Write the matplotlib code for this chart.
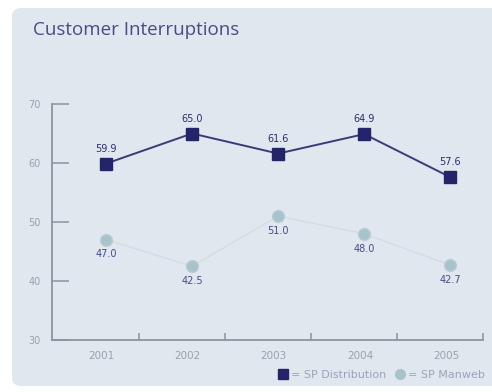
import matplotlib
matplotlib.use("Agg")
import matplotlib.pyplot as plt
from matplotlib.patches import FancyBboxPatch
from matplotlib.lines import Line2D

years = ["2001", "2002", "2003", "2004", "2005"]
sp_distribution = [59.9, 65.0, 61.6, 64.9, 57.6]
sp_manweb = [47.0, 42.5, 51.0, 48.0, 42.7]
y_ticks = [30, 40, 50, 60, 70]

W, H = 492, 392
fig = plt.figure(figsize=(W / 100, H / 100), dpi=100)
fig.patch.set_facecolor("white")

panel = FancyBboxPatch((12 / W, 6 / H), (W + 20 - 12) / W, (384 - 6) / H,
                       boxstyle="round,pad=0,rounding_size=0.02",
                       transform=fig.transFigure, facecolor="#e1e7ee",
                       edgecolor="none", zorder=-10)
fig.add_artist(panel)

fig.text(33 / W, 1 - 30 / H, "Customer Interruptions", fontsize=13.5,
         color="#4b4a84", va="center", ha="left", family="Open Sans")

ax = fig.add_axes([52 / W, 1 - 340 / H, (483 - 52) / W, (340 - 104) / H])
ax.set_facecolor("none")
ax.set_zorder(2)

x = list(range(len(years)))
navy = "#24246a"
light = "#a9c3cd"

ax.plot(x, sp_manweb, color="#d3dce5", lw=1.0, zorder=2)
ax.plot(x, sp_manweb, ls="none", marker="o", ms=8.5, color=light,
        markeredgecolor="#b7ccd4", zorder=3)
ax.plot(x, sp_distribution, color="#3a3a78", lw=1.4, zorder=4,
        marker="s", ms=8, markerfacecolor=navy, markeredgecolor=navy)

for xi, v in zip(x, sp_distribution):
    ax.annotate(f"{v:.1f}", (xi, v), xytext=(0, 7), textcoords="offset points",
                ha="center", va="bottom", fontsize=7, color="#2e2e70",
                annotation_clip=False)
for xi, v in zip(x, sp_manweb):
    ax.annotate(f"{v:.1f}", (xi, v), xytext=(0, -7), textcoords="offset points",
                ha="center", va="top", fontsize=7, color="#4a4a8a",
                annotation_clip=False)

ax.set_xlim(-0.628, 4.38)
ax.set_ylim(30, 70)
ax.set_yticks(y_ticks)
ax.set_yticklabels([str(t) for t in y_ticks])
ax.set_xticks([xi - 0.05 for xi in x])
ax.set_xticklabels(years)
ax.set_xticks([xi + 0.378 for xi in x], minor=True)

for s in ["top", "right"]:
    ax.spines[s].set_visible(False)
for s in ["left", "bottom"]:
    ax.spines[s].set_color("#8c939c")
    ax.spines[s].set_linewidth(1.3)

ax.tick_params(axis="y", direction="in", length=12, width=1.1, color="#8c939c",
               labelsize=7, labelcolor="#9aa1ab", pad=8)
ax.tick_params(axis="x", which="major", length=0, labelsize=7.5,
               labelcolor="#9aa1ab", pad=8)
ax.tick_params(axis="x", which="minor", direction="in", length=5, width=1.1,
               color="#8c939c")

handles = [Line2D([], [], ls="none", marker="s", ms=7, color=navy),
           Line2D([], [], ls="none", marker="o", ms=7, color=light)]
fig.legend(handles, ["= SP Distribution", "= SP Manweb"], ncol=2,
           loc="center right", bbox_to_anchor=(485 / W, 1 - 375 / H),
           frameon=False, fontsize=8, labelcolor="#9aa4b8",
           handlelength=0.8, handletextpad=0.3, columnspacing=0.9,
           borderpad=0, borderaxespad=0)

fig.savefig("out.png", dpi=100, facecolor="white")
